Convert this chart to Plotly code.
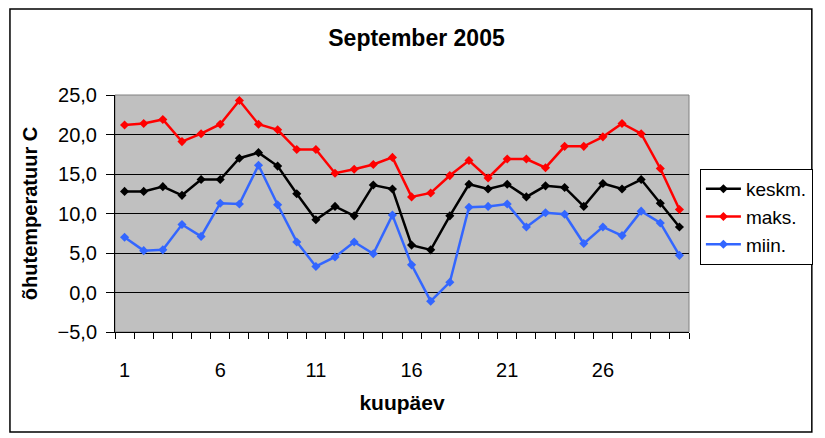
import plotly.graph_objs as go

# days of September 2005
days = list(range(1, 31))

# daily air temperature, C
keskm = [12.8, 12.8, 13.4, 12.3, 14.3, 14.3, 17.0, 17.7, 16.0, 12.5,
         9.2, 10.9, 9.7, 13.6, 13.1, 6.0, 5.4, 9.7, 13.7, 13.1,
         13.7, 12.1, 13.5, 13.3, 10.9, 13.8, 13.1, 14.3, 11.3, 8.3]
maks = [21.2, 21.4, 21.9, 19.1, 20.1, 21.3, 24.3, 21.3, 20.6, 18.1,
        18.1, 15.1, 15.6, 16.2, 17.1, 12.1, 12.6, 14.8, 16.7, 14.5,
        16.9, 16.9, 15.8, 18.5, 18.5, 19.7, 21.4, 20.1, 15.7, 10.5]
miin = [7.0, 5.3, 5.4, 8.6, 7.1, 11.3, 11.2, 16.1, 11.1, 6.4,
        3.3, 4.5, 6.4, 4.9, 9.8, 3.5, -1.1, 1.3, 10.8, 10.9,
        11.2, 8.3, 10.1, 9.9, 6.2, 8.3, 7.2, 10.3, 8.8, 4.7]

x_labels = [1, 6, 11, 16, 21, 26]
y_ticks = [-5, 0, 5, 10, 15, 20, 25]

font = "Liberation Sans, Arial, sans-serif"

fig = go.Figure()
for name, vals, col in [("keskm.", keskm, "#000000"),
                        ("maks.", maks, "#FF0000"),
                        ("miin.", miin, "#3366FF")]:
    fig.add_trace(go.Scatter(x=days, y=vals, name=name, mode='lines+markers',
                             line=dict(color=col, width=2.5),
                             marker=dict(symbol='diamond', size=7, color=col)))

# plot area border (grey) and outer chart frame
fig.add_shape(type='rect', xref='paper', yref='paper', x0=0, x1=1, y0=0, y1=1,
              line=dict(color='#808080', width=1), layer='below')
fig.add_shape(type='rect', xref='paper', yref='paper',
              x0=-0.183, x1=1.214, y0=-0.422, y1=1.363,
              line=dict(color='black', width=1.5))

# page body adds an 8px offset, so the figure is 8px smaller
fig.update_layout(
    width=817, height=430,
    margin=dict(l=107, r=131, t=87, b=106),
    paper_bgcolor='white', plot_bgcolor='#C0C0C0',
    separators=', ',
    font=dict(family=font, size=20, color='black'),
    title=dict(text='<b>September 2005</b>', x=0.5, xanchor='center',
               y=0.93, yanchor='middle', font=dict(size=23)),
    xaxis=dict(range=[0.5, 30.5], tickvals=x_labels, ticks='',
               showgrid=False, zeroline=False,
               showline=True, linecolor='black', linewidth=1,
               ticklabelstandoff=20,
               minor=dict(tick0=0.5, dtick=1, ticks='outside', ticklen=6,
                          tickcolor='black', showgrid=False),
               title=dict(text='<b>kuupäev</b>', standoff=15,
                          font=dict(size=21))),
    yaxis=dict(range=[-5, 25], tickvals=y_ticks, tickformat='.1f',
               ticks='outside', ticklen=8, tickcolor='black',
               ticklabelstandoff=5,
               showgrid=True, gridcolor='black', gridwidth=1,
               zeroline=False, showline=True, linecolor='black', linewidth=1,
               title=dict(text='<b>õhutemperatuur C</b>', standoff=14,
                          font=dict(size=20))),
    legend=dict(x=1.019, xanchor='left', y=0.688, yanchor='top',
                bordercolor='black', borderwidth=1, bgcolor='white',
                font=dict(size=19), itemwidth=35, tracegroupgap=0),
)

fig.write_html("out.html")
